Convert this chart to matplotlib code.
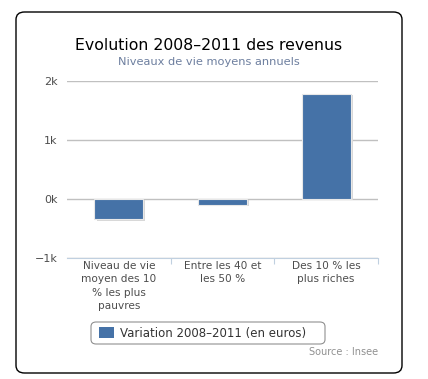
import matplotlib.pyplot as plt
from matplotlib.patches import FancyBboxPatch, Rectangle

CATEGORIES = ["Niveau de vie\nmoyen des 10\n% les plus\npauvres",
              "Entre les 40 et\nles 50 %",
              "Des 10 % les\nplus riches"]
VALUES = [-340, -100, 1780]
YTICKS = [-1000, 0, 1000, 2000]
YTICK_LABELS = ["−1k", "0k", "1k", "2k"]

BAR_COLOUR = "#4572a7"
TEXT_GREY = "#4d4d4d"

fig = plt.figure(figsize=(4.28, 3.79), dpi=100)
W, H = 428, 379

# rounded outer frame
frame = FancyBboxPatch((16 / W, 6 / H), 386 / W, 361 / H,
                       boxstyle="round,pad=0,rounding_size=0.02",
                       transform=fig.transFigure, fill=False,
                       edgecolor="black", linewidth=1.0)
fig.patches.append(frame)

ax = fig.add_axes([67 / W, 1 - 258 / H, 311 / W, 177 / H])
ax.set_xlim(-0.5, 2.5)
ax.set_ylim(-1000, 2000)

x = list(range(len(VALUES)))
# soft shadow behind each bar
for xi, v in zip(x, VALUES):
    ax.add_patch(Rectangle((xi - 0.235 + 0.02, min(v, 0) - 25), 0.47, abs(v),
                           facecolor="#d8d8d8", edgecolor="none", zorder=2))
ax.bar(x, VALUES, width=0.47, color=BAR_COLOUR, edgecolor="#e8e8e8",
       linewidth=0.8, zorder=3)

ax.set_yticks(YTICKS)
ax.set_yticklabels(YTICK_LABELS, fontsize=8, color=TEXT_GREY)
ax.yaxis.grid(True, color="#c0c0c0", linewidth=1.0)
ax.set_axisbelow(True)
ax.tick_params(axis="y", length=0, pad=7)

ax.set_xticks([0.5, 1.5, 2.5])
ax.set_xticklabels([])
ax.tick_params(axis="x", length=4, color="#c0d0e0", direction="out")
for xi, lab in zip(x, CATEGORIES):
    ax.text(xi, -1000 - 50, lab, ha="center", va="top", fontsize=7.6,
            color=TEXT_GREY, linespacing=1.42)

for s in ["top", "right", "left"]:
    ax.spines[s].set_visible(False)
ax.spines["bottom"].set_color("#c0d0e0")
ax.spines["bottom"].set_position(("data", -1000))

fig.text(209 / W, 1 - 46 / H, "Evolution 2008–2011 des revenus",
         ha="center", va="center", fontsize=11.3, color="black")
fig.text(209 / W, 1 - 62 / H, "Niveaux de vie moyens annuels",
         ha="center", va="center", fontsize=8.2, color="#6d7f9f")

# legend
leg_box = FancyBboxPatch((91 / W, 1 - 344 / H), 234 / W, 22 / H,
                         boxstyle="round,pad=0,rounding_size=0.012",
                         transform=fig.transFigure, fill=False,
                         edgecolor="#909090", linewidth=0.8)
fig.patches.append(leg_box)
fig.patches.append(Rectangle((99 / W, 1 - 338 / H), 15 / W, 11 / H,
                             transform=fig.transFigure,
                             facecolor=BAR_COLOUR, edgecolor="none"))
fig.text(120 / W, 1 - 333 / H, "Variation 2008–2011 (en euros)",
         ha="left", va="center", fontsize=8.5, color="#333333")

fig.text(378 / W, 1 - 352 / H, "Source : Insee", ha="right", va="center",
         fontsize=7, color="#909090")

fig.savefig("out.png", dpi=100)
